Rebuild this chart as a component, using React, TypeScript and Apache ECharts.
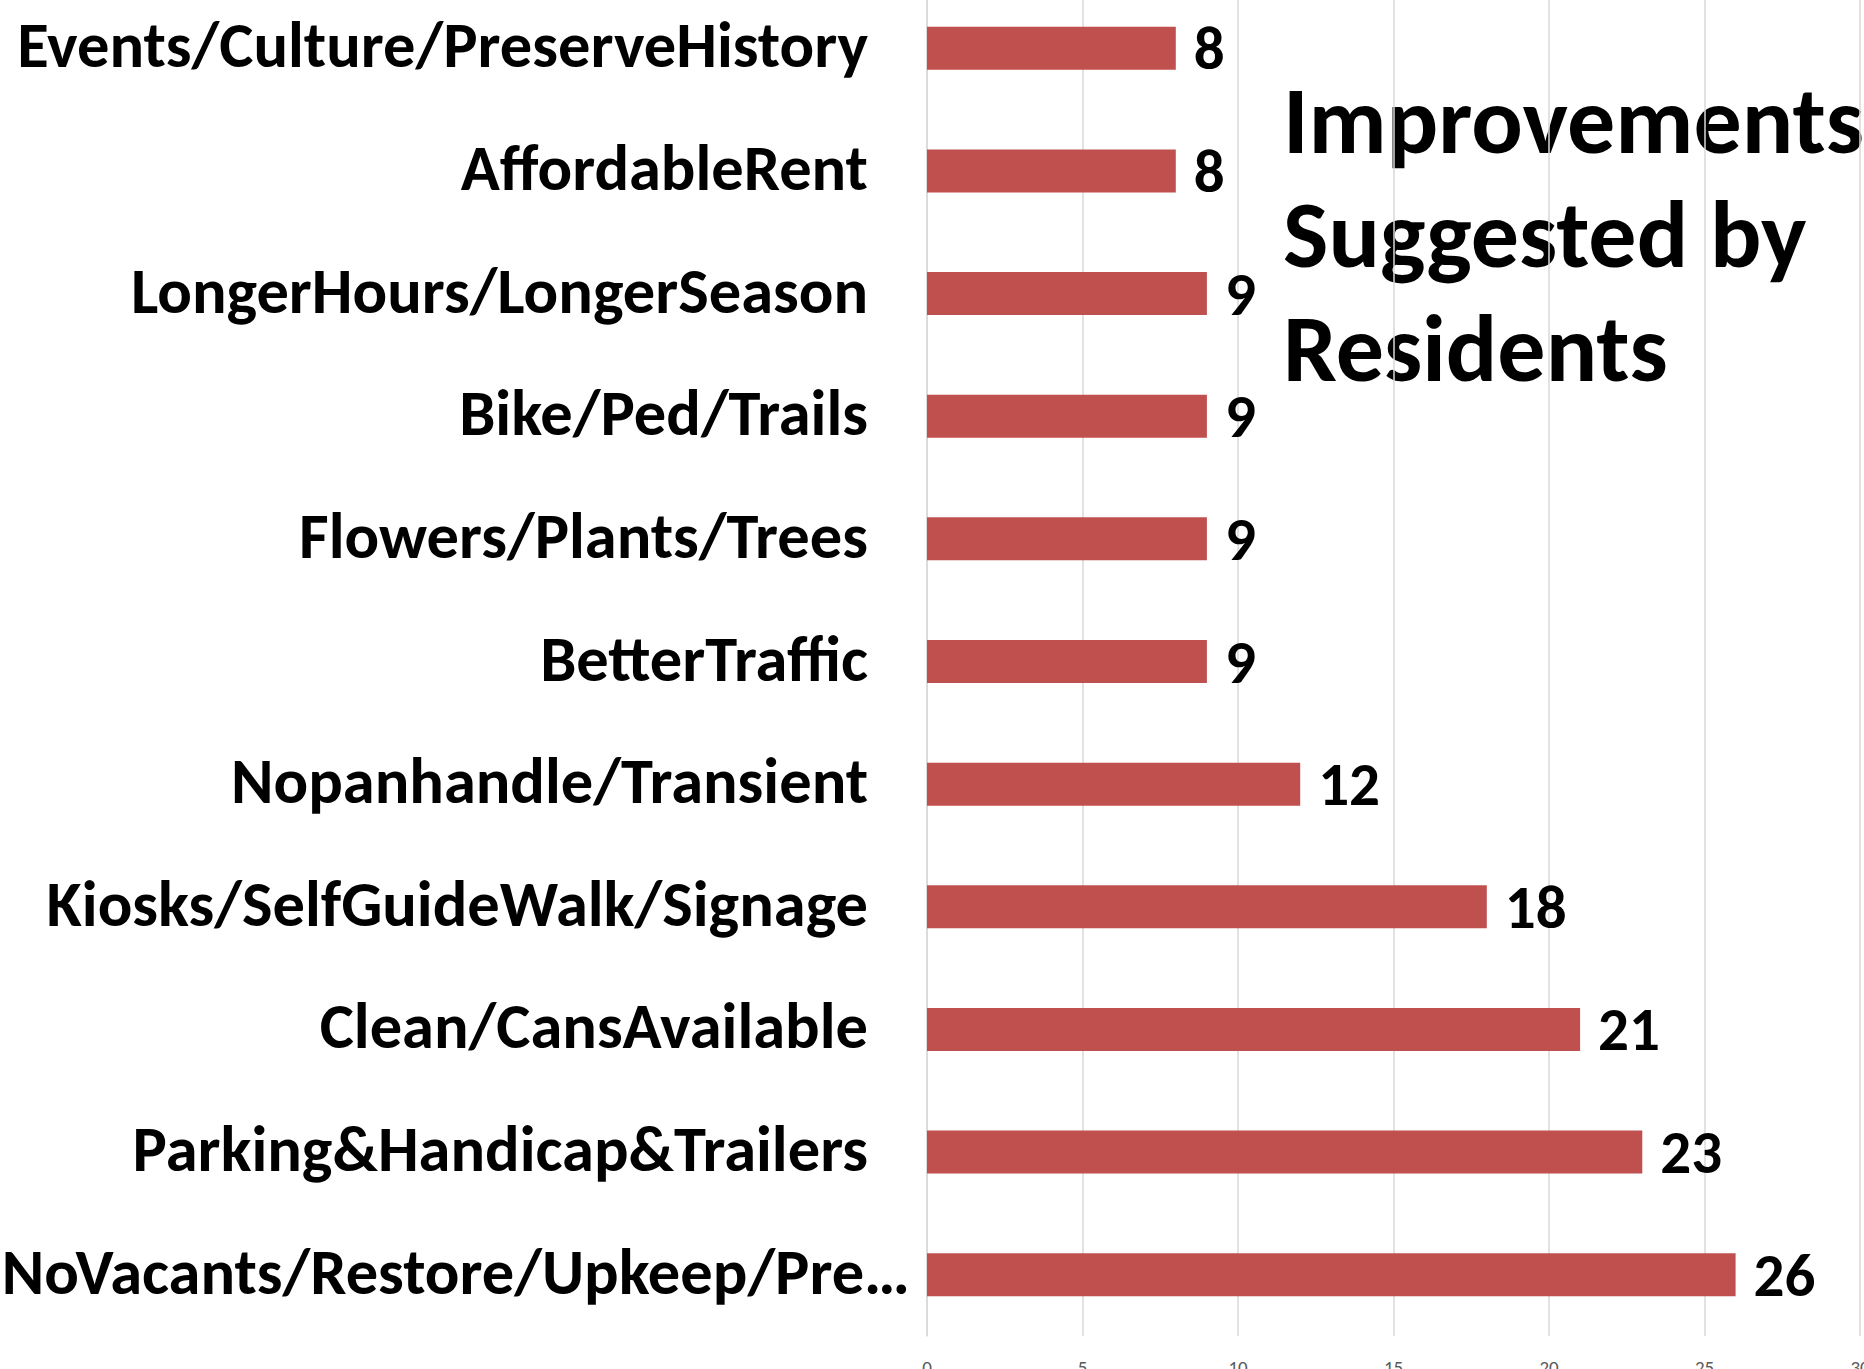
import React, { useEffect, useRef } from "react";
import * as echarts from "echarts";

const categories = [
  "Events/Culture/PreserveHistory",
  "AffordableRent",
  "LongerHours/LongerSeason",
  "Bike/Ped/Trails",
  "Flowers/Plants/Trees",
  "BetterTraffic",
  "Nopanhandle/Transient",
  "Kiosks/SelfGuideWalk/Signage",
  "Clean/CansAvailable",
  "Parking&Handicap&Trailers",
  "NoVacants/Restore/Upkeep/Pre…",
];
const values = [8, 8, 9, 9, 9, 9, 12, 18, 21, 23, 26];
const titleLines = ["Improvements", "Suggested by", "Residents"];

const FONT = "Carlito, 'Open Sans', sans-serif";
const SHIFT = 13; // the plot extends above the visible top edge

export default function App() {
  const ref = useRef<HTMLDivElement>(null);
  useEffect(() => {
    document.body.style.margin = "0";
    const chart = echarts.init(ref.current!, null, { renderer: "svg" });
    const lastIdx = categories.length - 1;
    chart.setOption({
      animation: false,
      backgroundColor: "#ffffff",
      grid: { left: 927, right: 4, top: 0, bottom: 33, containLabel: false, outerBoundsMode: "none" },
      xAxis: {
        type: "value",
        min: 0,
        max: 30,
        interval: 5,
        axisLine: { show: false },
        axisTick: { show: false },
        splitLine: { lineStyle: { color: "#D9D9D9", width: 1.5 } },
        axisLabel: { color: "#595959", fontSize: 19, margin: 22, fontFamily: FONT },
      },
      yAxis: {
        type: "category",
        inverse: true,
        data: categories,
        axisLine: { show: true, lineStyle: { color: "#D9D9D9", width: 1.5 } },
        axisTick: { show: false },
        axisLabel: {
          margin: 17,
          formatter: (v: string, i: number) => (i === lastIdx ? `{b|${v}}` : `{a|${v}}`),
          rich: {
            a: { fontSize: 64.5, fontWeight: "bold", color: "#000", fontFamily: FONT, padding: [0, 42, 6, 0] },
            b: { fontSize: 64.5, fontWeight: "bold", color: "#000", fontFamily: FONT, padding: [0, 0, 6, 0] },
          },
        },
      },
      series: [
        {
          type: "bar",
          data: values,
          barWidth: 43,
          itemStyle: { color: "#C0504D" },
          label: {
            show: true,
            position: "right",
            distance: 18,
            fontSize: 61,
            fontWeight: "bold",
            color: "#000",
            fontFamily: FONT,
          },
        },
      ],
      graphic: [
        {
          type: "text",
          left: 1283,
          top: 63 + SHIFT,
          style: {
            text: titleLines.join("\n"),
            font: `bold 96px ${FONT}`,
            lineHeight: 114,
            fill: "#000",
          },
        },
      ],
    });
    return () => chart.dispose();
  }, []);
  return (
    <div style={{ position: "relative", width: 1864, height: 1369, overflow: "hidden" }}>
      <div ref={ref} style={{ position: "absolute", left: 0, top: -SHIFT, width: 1864, height: 1369 + SHIFT }} />
    </div>
  );
}
